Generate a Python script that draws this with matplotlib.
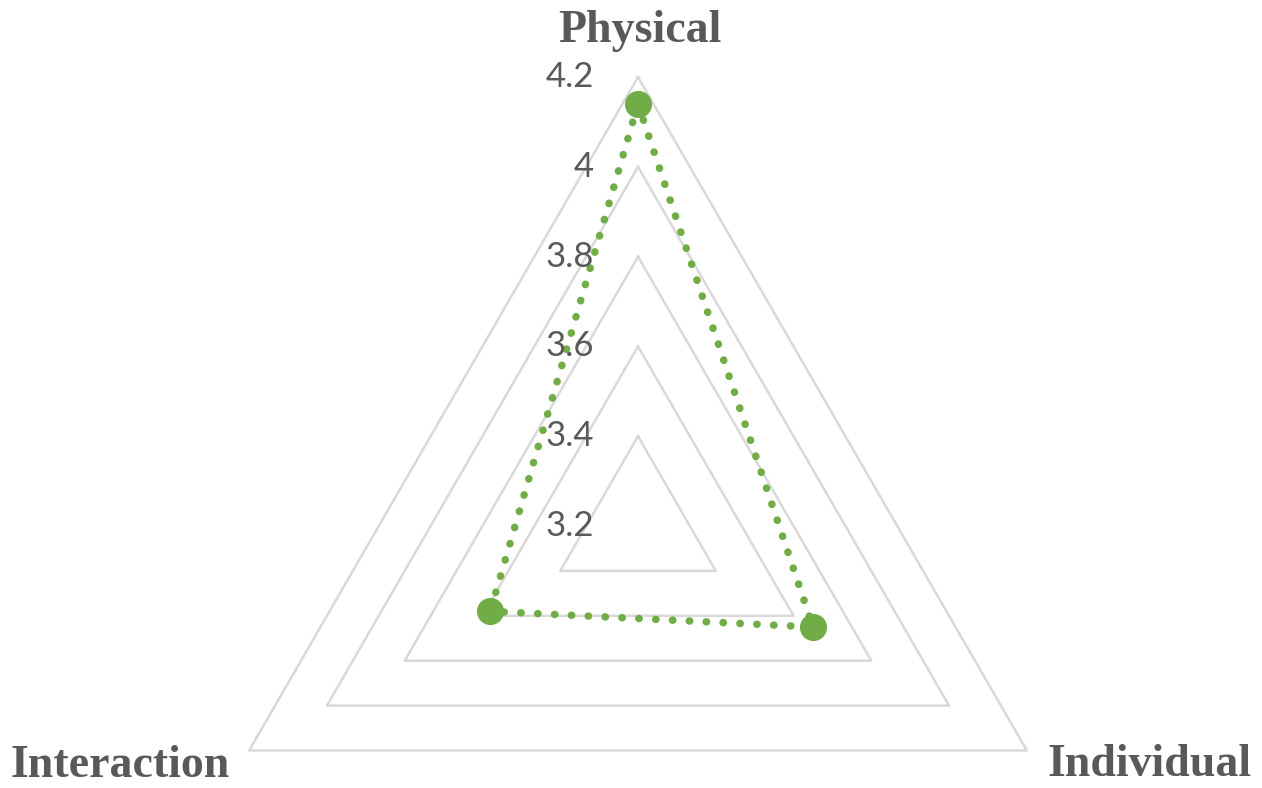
import numpy as np
import matplotlib.pyplot as plt

categories = ["Physical", "Individual", "Interaction"]
values = [4.14, 3.65, 3.58]
grid_levels = [3.4, 3.6, 3.8, 4.0, 4.2]
tick_levels = [3.2, 3.4, 3.6, 3.8, 4.0, 4.2]
tick_labels = ["3.2", "3.4", "3.6", "3.8", "4", "4.2"]

GREEN = "#70AD47"
GRID = "#D9D9D9"
TEXT = "#595959"

W, H = 1262, 788
fig = plt.figure(figsize=(W / 100, H / 100), dpi=100)

# polar axes placed so the centre and the outer radius land where they should
cx, cy, R = 638, 526, 449
ax = fig.add_axes([(cx - R) / W, (H - cy - R) / H, 2 * R / W, 2 * R / H],
                  projection="polar")
ax.set_theta_zero_location("N")
ax.set_theta_direction(-1)
ax.set_ylim(3.2, 4.2)
ax.grid(False)
ax.spines["polar"].set_visible(False)
ax.set_xticks([])
ax.set_yticks([])
ax.patch.set_visible(False)

angles = np.deg2rad([0, 120, 240])
closed = np.append(angles, angles[0])

# triangular gridlines
for lvl in grid_levels:
    ax.plot(closed, [lvl] * 4, color=GRID, lw=1.8, clip_on=False, zorder=1)

# data series
vals = values + values[:1]
ax.plot(closed, vals, color=GREEN, lw=5.4, linestyle=(0, (0.05, 2.2)),
        dash_capstyle="round", clip_on=False, zorder=3)
ax.plot(angles, values, "o", color=GREEN, ms=18.5, mec=GREEN, clip_on=False,
        zorder=4)

# value axis labels
for lvl, lab in zip(tick_levels, tick_labels):
    ax.annotate(lab, (0, lvl), xytext=(-44, 0), textcoords="offset pixels",
                ha="right", va="center", fontsize=25, color=TEXT,
                family="Lato", annotation_clip=False)

# category labels
cat_font = dict(family="Liberation Serif", weight="bold", fontsize=33,
                color=TEXT, annotation_clip=False)
ax.annotate(categories[0], (angles[0], 4.2), xytext=(2, 46),
            textcoords="offset pixels", ha="center", va="center", **cat_font)
ax.annotate(categories[1], (angles[1], 4.2), xytext=(21, -15),
            textcoords="offset pixels", ha="left", va="center", **cat_font)
ax.annotate(categories[2], (angles[2], 4.2), xytext=(-19, -15),
            textcoords="offset pixels", ha="right", va="center", **cat_font)

fig.savefig("out.png", dpi=100)
